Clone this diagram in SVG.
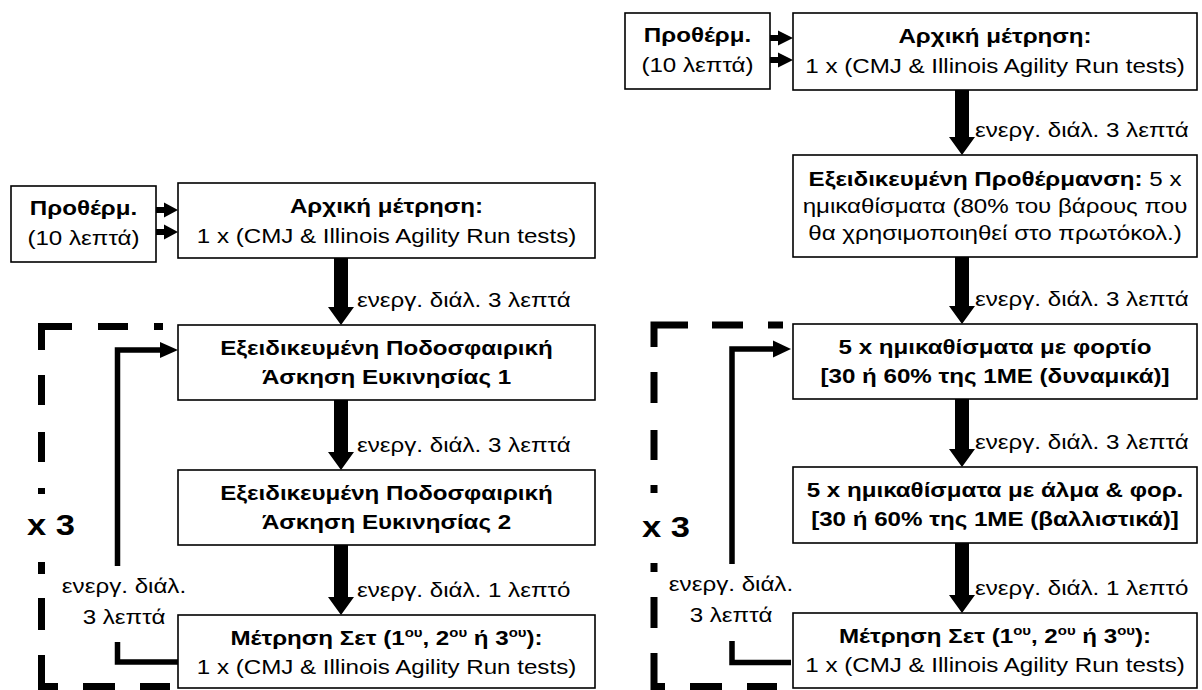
<svg xmlns="http://www.w3.org/2000/svg" width="1202" height="690" viewBox="0 0 1202 690">
<style>
.bg{fill:#fff}
.box{fill:#fff;stroke:#000;stroke-width:1.6}
.t{font-family:"Liberation Sans",Arial,sans-serif;font-size:21px;fill:#000}
.b{font-weight:bold}
.sup{font-size:13px;font-weight:bold}
.x3{font-family:"Liberation Sans",Arial,sans-serif;font-size:30px;font-weight:bold;fill:#000}
.dash{fill:none;stroke:#000;stroke-width:7;stroke-linecap:butt;stroke-linejoin:miter}
.loop{fill:none;stroke:#000;stroke-width:5.5;stroke-linejoin:miter}
.ah{fill:#000}
</style>
<rect class="bg" x="0" y="0" width="1202" height="690"/>

<g id="repeat-frame-left">
<path class="dash" d="M41.5 350 V326.5 H72 M98 326.5 H128 M154 326.5 H163 M41.5 375 V405 M41.5 432 V462 M41.5 488 V494 M41.5 562 V574 M41.5 598 V630 M41.5 655 V686.5 H58 M83 686.5 H115 M140 686.5 H170"/>
<text class="x3" transform="translate(27 535) scale(1.15 1)">x 3</text>
</g>
<g id="repeat-frame-right">
<path class="dash" d="M654 347 V325 H688 M712 325 H743 M768 325 H783 M654 372 V403 M654 430 V460 M654 485 V493 M654 563 V572 M654 597 V628 M654 653 V686.5 H665 M690 686.5 H722 M747 686.5 H777"/>
<text class="x3" transform="translate(642 537) scale(1.15 1)">x 3</text>
</g>

<g id="connectors">
<path class="loop" d="M178 662 H117.5 V350 H162"/>
<polygon class="ah" points="160,342 178,350 160,358"/>
<path class="loop" d="M791 662.5 H732 V349 H775"/>
<polygon class="ah" points="773,340.5 791,349 773,357.5"/>
<rect class="bg" x="50" y="566" width="126" height="76"/>
<text class="t" text-anchor="middle" transform="translate(124 593) scale(1.15 1)">ενεργ. διάλ.</text>
<text class="t" text-anchor="middle" transform="translate(124 624) scale(1.15 1)">3 λεπτά</text>
<rect class="bg" x="662" y="564" width="126" height="77"/>
<text class="t" text-anchor="middle" transform="translate(731 591) scale(1.15 1)">ενεργ. διάλ.</text>
<text class="t" text-anchor="middle" transform="translate(731 622) scale(1.15 1)">3 λεπτά</text>

<polygon class="ah" points="156,207 164,207 164,202.5 178,210 164,217.5 164,213 156,213"/>
<polygon class="ah" points="156,229 164,229 164,224.5 178,232 164,239.5 164,235 156,235"/>
<polygon class="ah" points="770,35 778,35 778,30.5 793,38 778,45.5 778,41 770,41"/>
<polygon class="ah" points="770,57 778,57 778,52.5 793,60 778,67.5 778,63 770,63"/>

<polygon class="ah" points="334,258 348,258 348,307 354,307 341,325 328,307 334,307"/>
<polygon class="ah" points="334,400 348,400 348,452 354,452 341,470 328,452 334,452"/>
<polygon class="ah" points="334,545 348,545 348,597 354,597 341,615 328,597 334,597"/>
<polygon class="ah" points="955,90 969,90 969,137 975,137 962,155 949,137 955,137"/>
<polygon class="ah" points="955,257 969,257 969,306 975,306 962,324 949,306 955,306"/>
<polygon class="ah" points="955,399 969,399 969,449 975,449 962,467 949,449 955,449"/>
<polygon class="ah" points="955,543 969,543 969,595 975,595 962,613 949,595 955,595"/>

<text class="t" transform="translate(357 307) scale(1.15 1)">ενεργ. διάλ. 3 λεπτά</text>
<text class="t" transform="translate(357 452) scale(1.15 1)">ενεργ. διάλ. 3 λεπτά</text>
<text class="t" transform="translate(357 597) scale(1.15 1)">ενεργ. διάλ. 1 λεπτό</text>
<text class="t" transform="translate(975 137) scale(1.15 1)">ενεργ. διάλ. 3 λεπτά</text>
<text class="t" transform="translate(975 306) scale(1.15 1)">ενεργ. διάλ. 3 λεπτά</text>
<text class="t" transform="translate(975 449) scale(1.15 1)">ενεργ. διάλ. 3 λεπτά</text>
<text class="t" transform="translate(975 595) scale(1.15 1)">ενεργ. διάλ. 1 λεπτό</text>
</g>

<g id="warmup-left">
<rect class="box" x="11" y="186" width="145" height="76"/>
<text class="t b" text-anchor="middle" transform="translate(83.5 215) scale(1.15 1)">Προθέρμ.</text>
<text class="t" text-anchor="middle" transform="translate(83.5 245) scale(1.15 1)">(10 λεπτά)</text>
</g>
<g id="initial-left">
<rect class="box" x="178" y="183" width="417" height="75"/>
<text class="t b" text-anchor="middle" transform="translate(386.5 213) scale(1.15 1)">Αρχική μέτρηση:</text>
<text class="t" text-anchor="middle" transform="translate(386.5 243) scale(1.15 1)">1 x (CMJ &amp; Illinois Agility Run tests)</text>
</g>
<g id="agility1-left">
<rect class="box" x="178" y="325" width="417" height="75"/>
<text class="t b" text-anchor="middle" transform="translate(386.5 355) scale(1.15 1)">Εξειδικευμένη Ποδοσφαιρική</text>
<text class="t b" text-anchor="middle" transform="translate(386.5 384) scale(1.15 1)">Άσκηση Ευκινησίας 1</text>
</g>
<g id="agility2-left">
<rect class="box" x="178" y="470" width="417" height="75"/>
<text class="t b" text-anchor="middle" transform="translate(386.5 500) scale(1.15 1)">Εξειδικευμένη Ποδοσφαιρική</text>
<text class="t b" text-anchor="middle" transform="translate(386.5 529) scale(1.15 1)">Άσκηση Ευκινησίας 2</text>
</g>
<g id="set-left">
<rect class="box" x="178" y="615" width="417" height="73"/>
<text class="t b" text-anchor="middle" transform="translate(386.5 645) scale(1.15 1)">Μέτρηση Σετ (1<tspan class="sup" dy="-8">ου</tspan><tspan dy="8">, 2</tspan><tspan class="sup" dy="-8">ου</tspan><tspan dy="8"> ή 3</tspan><tspan class="sup" dy="-8">ου</tspan><tspan dy="8">):</tspan></text>
<text class="t" text-anchor="middle" transform="translate(386.5 674) scale(1.15 1)">1 x (CMJ &amp; Illinois Agility Run tests)</text>
</g>

<g id="warmup-right">
<rect class="box" x="625" y="13" width="145" height="76"/>
<text class="t b" text-anchor="middle" transform="translate(697.5 42) scale(1.15 1)">Προθέρμ.</text>
<text class="t" text-anchor="middle" transform="translate(697.5 72) scale(1.15 1)">(10 λεπτά)</text>
</g>
<g id="initial-right">
<rect class="box" x="793" y="13" width="404" height="77"/>
<text class="t b" text-anchor="middle" transform="translate(995 43) scale(1.15 1)">Αρχική μέτρηση:</text>
<text class="t" text-anchor="middle" transform="translate(995 73) scale(1.15 1)">1 x (CMJ &amp; Illinois Agility Run tests)</text>
</g>
<g id="specific-warmup-right">
<rect class="box" x="793" y="155" width="404" height="102"/>
<text class="t" text-anchor="middle" transform="translate(995 186) scale(1.15 1)"><tspan class="b">Εξειδικευμένη Προθέρμανση:</tspan> 5 x</text>
<text class="t" text-anchor="middle" transform="translate(995 213) scale(1.15 1)">ημικαθίσματα (80% του βάρους που</text>
<text class="t" text-anchor="middle" transform="translate(995 240) scale(1.15 1)">θα χρησιμοποιηθεί στο πρωτόκολ.)</text>
</g>
<g id="squats-load-right">
<rect class="box" x="793" y="324" width="404" height="75"/>
<text class="t b" text-anchor="middle" transform="translate(995 354) scale(1.15 1)">5 x ημικαθίσματα με φορτίο</text>
<text class="t b" text-anchor="middle" transform="translate(995 383) scale(1.15 1)">[30 ή 60% της 1ΜΕ (δυναμικά)]</text>
</g>
<g id="squats-jump-right">
<rect class="box" x="793" y="467" width="404" height="76"/>
<text class="t b" text-anchor="middle" transform="translate(995 497) scale(1.15 1)">5 x ημικαθίσματα με άλμα &amp; φορ.</text>
<text class="t b" text-anchor="middle" transform="translate(995 526) scale(1.15 1)">[30 ή 60% της 1ΜΕ (βαλλιστικά)]</text>
</g>
<g id="set-right">
<rect class="box" x="793" y="613" width="404" height="75"/>
<text class="t b" text-anchor="middle" transform="translate(995 643) scale(1.15 1)">Μέτρηση Σετ (1<tspan class="sup" dy="-8">ου</tspan><tspan dy="8">, 2</tspan><tspan class="sup" dy="-8">ου</tspan><tspan dy="8"> ή 3</tspan><tspan class="sup" dy="-8">ου</tspan><tspan dy="8">):</tspan></text>
<text class="t" text-anchor="middle" transform="translate(995 672) scale(1.15 1)">1 x (CMJ &amp; Illinois Agility Run tests)</text>
</g>
</svg>
